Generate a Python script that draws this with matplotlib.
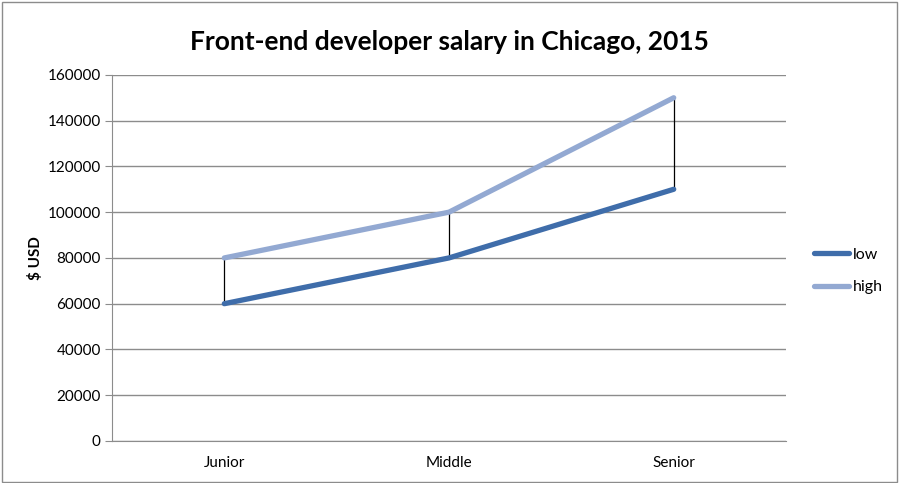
import matplotlib.pyplot as plt
import numpy as np
from matplotlib.patches import Rectangle

levels = ["Junior", "Middle", "Senior"]
low = [60000, 80000, 110000]
high = [80000, 100000, 150000]
yticks = [0, 20000, 40000, 60000, 80000, 100000, 120000, 140000, 160000]

plt.rcParams['font.family'] = ['Lato', 'DejaVu Sans']

fig = plt.figure(figsize=(9, 4.83), dpi=100)
ax = fig.add_axes([0.1244, 0.087, 0.749, 0.758])

x = np.arange(len(levels))
# high-low connector lines
ax.vlines(x, low, high, color='black', lw=0.9, zorder=2)
ax.plot(x, low, color='#3F6DAA', lw=3.8, solid_capstyle='round', label='low', zorder=3)
ax.plot(x, high, color='#93A9D2', lw=3.8, solid_capstyle='round', label='high', zorder=3)

ax.set_xlim(-0.5, 2.5)
ax.set_ylim(0, 160000)
ax.set_yticks(yticks)
ax.set_yticklabels([str(v) for v in yticks])
ax.set_xticks(x)
ax.set_xticklabels(levels)
ax.yaxis.grid(True, color='#8c8c8c', lw=1)
ax.set_axisbelow(True)
for s in ['top', 'right']:
    ax.spines[s].set_visible(False)
for s in ['left', 'bottom']:
    ax.spines[s].set_color('#8c8c8c')
ax.tick_params(axis='y', length=5, color='#8c8c8c', labelsize=11, pad=3)
ax.tick_params(axis='x', length=0, labelsize=11, pad=11)
ax.set_ylabel('$ USD', fontsize=11, fontweight='bold', labelpad=3)

ax.set_title('Front-end developer salary in Chicago, 2015', fontsize=19, fontweight='bold', pad=18)

leg = ax.legend(loc='center left', bbox_to_anchor=(1.02, 0.465), frameon=False,
                fontsize=11.5, handlelength=2.2, handletextpad=0.25, labelspacing=1.15)

fig.patches.append(Rectangle((0.002, 0.003), 0.995, 0.993, transform=fig.transFigure,
                             fill=False, edgecolor='#8c8c8c', lw=1))

plt.savefig('out.png', dpi=100)
